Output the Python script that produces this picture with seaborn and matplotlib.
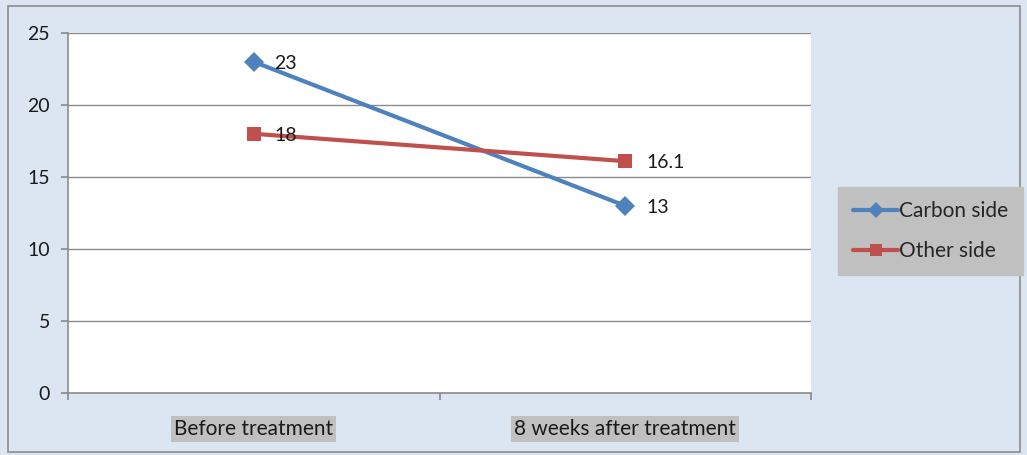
import matplotlib
matplotlib.use("Agg")
import matplotlib.pyplot as plt
import matplotlib.patches as mpatches
import pandas as pd
import seaborn as sns

# Data
categories = ["Before treatment", "8 weeks after treatment"]
carbon_side = [23, 13]
other_side = [18, 16.1]
series_names = ["Carbon side", "Other side"]
y_ticks = [0, 5, 10, 15, 20, 25]

df = pd.DataFrame({
    "time": categories * 2,
    "pos": [0, 1, 0, 1],
    "value": carbon_side + other_side,
    "series": [series_names[0]] * 2 + [series_names[1]] * 2,
})

sns.set_theme(style="white")
plt.rcParams["font.family"] = ["Lato", "DejaVu Sans"]

bg = "#dce6f2"
blue = "#4f81bd"
red = "#c0504d"
grid_c = "#8c8c8c"
txt = "#1a1a1a"
fs = 14
fs_cat = 15

fig = plt.figure(figsize=(10.27, 4.55), dpi=100, facecolor=bg)
ax = fig.add_axes([68 / 1027, 1 - 393 / 455, (811 - 68) / 1027, (393 - 33) / 455])
ax.set_facecolor("white")

# outer chart border
fig.patches.append(mpatches.Rectangle((8 / 1027, 3 / 455), 1012 / 1027, 446 / 455,
                                      transform=fig.transFigure, fill=False,
                                      edgecolor="#8c8c8c", linewidth=1.2))

sns.lineplot(data=df, x="pos", y="value", hue="series", style="series",
             palette={series_names[0]: blue, series_names[1]: red},
             markers={series_names[0]: "D", series_names[1]: "s"},
             dashes=False, linewidth=3, markersize=10.5, markeredgewidth=0,
             ax=ax, legend=False, zorder=3)

ax.set_xlim(-0.5, 1.5)
ax.set_ylim(0, 25)
ax.set_yticks(y_ticks)
ax.set_yticklabels([str(t) for t in y_ticks], fontsize=fs, color=txt)
ax.yaxis.grid(True, color=grid_c, linewidth=1)
ax.set_axisbelow(True)
ax.tick_params(axis="y", which="both", left=True, length=5, color=grid_c, pad=8)

# category labels at centers, tick marks between categories
ax.set_xticks([-0.5, 0.5, 1.5])
ax.set_xticklabels([])
ax.tick_params(axis="x", bottom=True, length=5, color=grid_c)
for i, cat in enumerate(categories):
    ax.text(i, -0.072, cat, transform=ax.get_xaxis_transform(), ha="center", va="top",
            fontsize=fs_cat, color=txt,
            bbox=dict(boxstyle="square,pad=0.15", facecolor="#c0c0c0", edgecolor="none"))

ax.set_xlabel("")
ax.set_ylabel("")
for side in ["top", "right"]:
    ax.spines[side].set_visible(False)
for side in ["left", "bottom"]:
    ax.spines[side].set_color(grid_c)
    ax.spines[side].set_linewidth(1.2)

# data labels
for vals in (carbon_side, other_side):
    for i, v in enumerate(vals):
        ax.annotate(f"{v:g}", (i, v), xytext=(15, -1), textcoords="offset points",
                    ha="left", va="center", fontsize=fs, color=txt, zorder=4)

# legend
handles = [
    plt.Line2D([], [], color=blue, marker="D", linewidth=3, markersize=8, markeredgewidth=0),
    plt.Line2D([], [], color=red, marker="s", linewidth=3, markersize=9, markeredgewidth=0),
]
leg = fig.legend(handles, series_names, loc="center left",
                 bbox_to_anchor=(838 / 1027, 1 - 231 / 455), frameon=True,
                 fontsize=fs_cat, handlelength=2.2, handletextpad=0.05, labelspacing=0.95,
                 borderpad=0.7, borderaxespad=0, fancybox=False)
leg.get_frame().set_facecolor("#c0c0c0")
leg.get_frame().set_edgecolor("#c0c0c0")
leg.get_frame().set_alpha(1)

fig.savefig("out.png", dpi=100, facecolor=bg)
